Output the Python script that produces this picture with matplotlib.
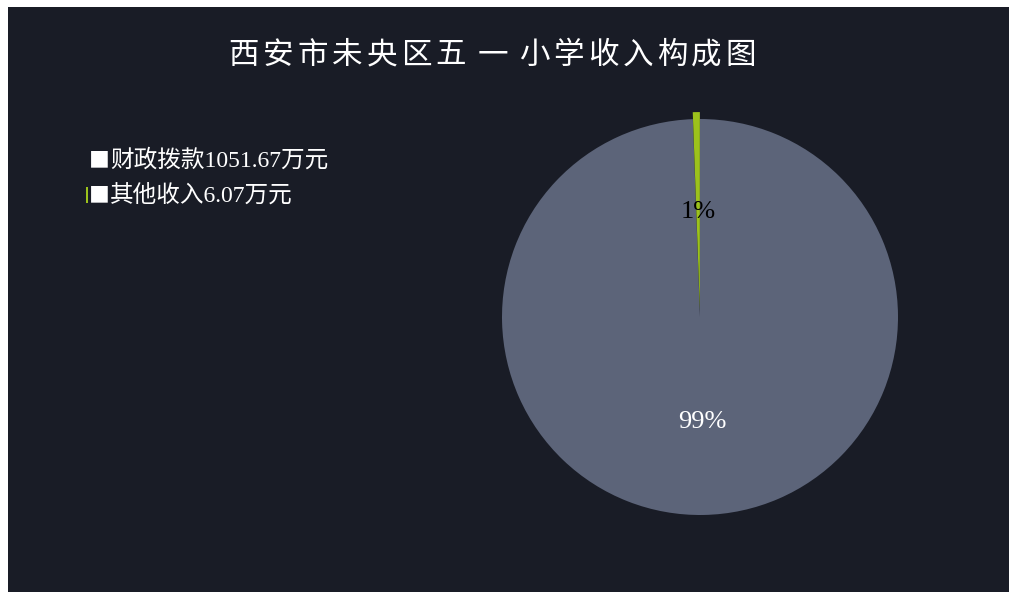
"""西安市未央区五一小学收入构成饼图。"""

import matplotlib

matplotlib.use("Agg")
import matplotlib.pyplot as plt
from matplotlib.patches import Rectangle

LABELS = ["财政拨款", "其他收入"]
VALUES = [1051.67, 6.07]
COLORS = ["#5c6479", "#9cc21c"]
EXPLODE = [0, 0.035]
TITLE = "西安市未央区五 一 小学收入构成图"

BG = "#191c26"
CJK = ["Noto Sans CJK SC", "DejaVu Sans"]
SERIF = ["Liberation Serif", "Noto Sans CJK SC", "DejaVu Sans"]

W, H = 1009, 592
fig = plt.figure(figsize=(W / 100, H / 100), dpi=100, facecolor="white")

# 左上角留白边
fig.patches.append(Rectangle((8 / W, 0), 1 - 8 / W, 1 - 7 / H,
                             transform=fig.transFigure, facecolor=BG,
                             edgecolor="none", zorder=-10))

# 标题：逐字排开，字距较宽
x = 244
for ch in TITLE:
    if ch == " ":
        x += 7
        continue
    fig.text(x / W, 1 - 55 / H, ch, ha="center", va="center", color="white",
             fontsize=22, family=CJK)
    x += 34.5

# 饼图
cx, cy, r = 700, 317, 198
ax = fig.add_axes([(cx - r) / W, (H - cy - r) / H, 2 * r / W, 2 * r / H])
ax.set_facecolor("none")
wedges, texts, autotexts = ax.pie(
    VALUES, colors=COLORS, startangle=90, counterclock=False,
    explode=EXPLODE, autopct="%.0f%%", pctdistance=0.53,
    radius=1.0, wedgeprops={"linewidth": 0},
    textprops={"family": SERIF, "fontsize": 19})
autotexts[0].set_color("white")
autotexts[1].set_color("black")
# 百分比标签不随扇区外移
px, py = autotexts[1].get_position()
autotexts[1].set_position((px, py - EXPLODE[1]))
ax.set_xlim(-1, 1)
ax.set_ylim(-1, 1)
ax.set_aspect("auto")
ax.axis("off")

# 图例（文字方块）
for i, (lab, val) in enumerate(zip(LABELS, VALUES)):
    y = 1 - (160 + i * 35) / H
    fig.text(89 / W, y, "■", ha="left", va="center", color="white",
             fontsize=15, family=CJK)
    fig.text(110 / W, y, f"{lab}{val:g}万元", ha="left", va="center",
             color="white", fontsize=17, family=SERIF)
    if i == 1:
        fig.patches.append(Rectangle((86 / W, y - 8 / H), 2 / W, 16 / H,
                                     transform=fig.transFigure,
                                     facecolor=COLORS[i], edgecolor="none"))

fig.savefig("out.png", dpi=100, facecolor=fig.get_facecolor())
